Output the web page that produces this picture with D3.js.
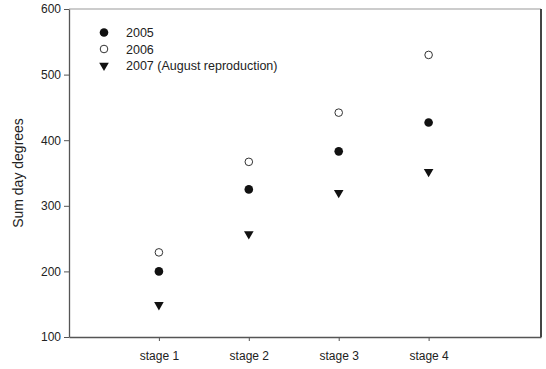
<!DOCTYPE html>
<html>
<head>
<meta charset="utf-8">
<script src="https://cdn.jsdelivr.net/npm/d3@7"></script>
<style>
body { margin: 0; background: #fff; }
text { font-family: "Liberation Sans", Arial, sans-serif; fill: #222; }
</style>
</head>
<body>
<svg id="chart" width="546" height="369"></svg>
<script>
var stages = ['stage 1', 'stage 2', 'stage 3', 'stage 4']
var y2005 = [200, 325, 383, 427]
var y2006 = [229, 367, 442, 530]
var y2007 = [149, 257, 320, 352]
var yTicks = [100, 200, 300, 400, 500, 600]
var seriesNames = ['2005', '2006', '2007 (August reproduction)']

var svg = d3.select('#chart')
var margin = { left: 69, right: 541, top: 9, bottom: 337 }

var xscale = d3.scaleLinear().domain([0, 5.25]).range([margin.left, margin.right])
var yscale = d3.scaleLinear().domain([100, 600]).range([margin.bottom, margin.top])

// frame
svg.append('line').attr('x1', margin.left).attr('x2', margin.right)
    .attr('y1', margin.top).attr('y2', margin.top)
    .attr('stroke', '#999').attr('stroke-width', 1)
svg.append('line').attr('x1', margin.right).attr('x2', margin.right)
    .attr('y1', margin.top).attr('y2', margin.bottom)
    .attr('stroke', '#444').attr('stroke-width', 2)

svg.append('g')
    .attr('transform', 'translate(' + margin.left + ',0)')
    .call(d3.axisLeft(yscale).tickValues(yTicks).tickSize(5).tickPadding(3).tickSizeOuter(0))
svg.append('g')
    .attr('transform', 'translate(0,' + margin.bottom + ')')
    .call(d3.axisBottom(xscale).tickValues([1, 2, 3, 4]).tickSize(4).tickPadding(10)
        .tickSizeOuter(0).tickFormat(function (d) { return stages[d - 1] }))
svg.selectAll('.domain').attr('stroke', '#555').attr('stroke-width', 1.3)
svg.selectAll('.tick line').attr('stroke', '#555')
svg.selectAll('.tick text').style('font-size', '12px').attr('fill', '#222')

svg.append('text').text('Sum day degrees')
    .attr('transform', 'translate(23,' + (yscale(350)) + ') rotate(-90)')
    .attr('text-anchor', 'middle').style('font-size', '14px')

var tri = d3.symbol().type(d3.symbolTriangle).size(40)

function drawSeries(vals, kind) {
    var g = svg.append('g')
    vals.forEach(function (v, i) {
        var cx = xscale(i + 1), cy = yscale(v)
        if (kind == 0) {
            g.append('circle').attr('cx', cx).attr('cy', cy).attr('r', 4.3).attr('fill', '#111')
        } else if (kind == 1) {
            g.append('circle').attr('cx', cx).attr('cy', cy).attr('r', 3.8)
                .attr('fill', '#fff').attr('stroke', '#333').attr('stroke-width', 1)
        } else {
            g.append('path').attr('d', tri)
                .attr('transform', 'translate(' + cx + ',' + cy + ') rotate(180)')
                .attr('fill', '#111')
        }
    })
}
drawSeries(y2005, 0)
drawSeries(y2006, 1)
drawSeries(y2007, 2)

// legend
var lg = svg.append('g')
seriesNames.forEach(function (name, i) {
    var ly = 32.5 + i * 16.5
    if (i == 0) lg.append('circle').attr('cx', 104).attr('cy', ly).attr('r', 4.3).attr('fill', '#111')
    if (i == 1) lg.append('circle').attr('cx', 104).attr('cy', ly).attr('r', 3.8)
        .attr('fill', '#fff').attr('stroke', '#333')
    if (i == 2) lg.append('path').attr('d', tri)
        .attr('transform', 'translate(104,' + ly + ') rotate(180)').attr('fill', '#111')
    lg.append('text').text(name).attr('x', 126).attr('y', ly + 4.5).style('font-size', '12.5px')
})
</script>
</body>
</html>
